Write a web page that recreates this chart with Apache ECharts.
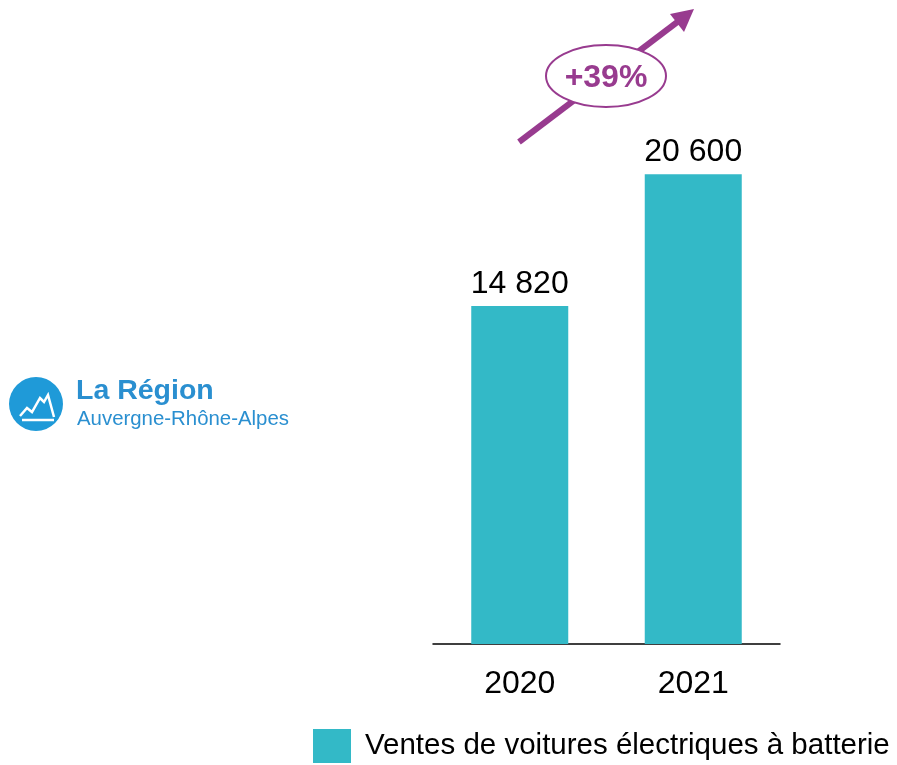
<!DOCTYPE html>
<html><head><meta charset="utf-8">
<script src="https://cdn.jsdelivr.net/npm/echarts@6/dist/echarts.min.js"></script>
<style>html,body{margin:0;padding:0;background:#fff}#c{width:897px;height:765px}</style>
</head><body><div id="c"></div>
<script>
const categories = ['2020', '2021'];
const sales = [14820, 20600];
const seriesName = 'Ventes de voitures électriques à batterie';
const growthLabel = '+39%';

const fmt = v => String(v).replace(/\B(?=(\d{3})+(?!\d))/g, ' ');
const FONT = 'Liberation Sans';
const PURPLE = '#983b8f';
const BLUE = '#1f9ad8';

const chart = echarts.init(document.getElementById('c'));
chart.setOption({
  animation: false,
  textStyle: { fontFamily: FONT },
  grid: { left: 433, right: 117, top: 74, bottom: 121 },
  legend: {
    left: 313, top: 729, itemWidth: 38, itemHeight: 34, itemGap: 10, padding: 0,
    icon: 'rect',
    textStyle: { fontSize: 29.5, color: '#000', fontFamily: FONT, padding: [0, 0, 0, 9] },
    data: [seriesName]
  },
  xAxis: {
    type: 'category', data: categories,
    axisLine: { lineStyle: { color: '#000', width: 1.5 } },
    axisTick: { show: false },
    axisLabel: { fontSize: 32, color: '#000', margin: 24 }
  },
  yAxis: { type: 'value', min: 0, max: 25000, show: false, splitLine: { show: false } },
  series: [{
    name: seriesName, type: 'bar', data: sales, barWidth: 97,
    itemStyle: { color: '#33b9c7' },
    label: { show: true, position: 'top', distance: 6, fontSize: 32, color: '#000', formatter: p => fmt(p.value) }
  }],
  graphic: [
    { type: 'circle', shape: { cx: 36, cy: 404, r: 27 }, style: { fill: BLUE } },
    { type: 'polyline', shape: { points: [[20,416],[27,408],[32,412],[40,398],[44,402],[48,395],[54,417]] }, style: { stroke: '#fff', lineWidth: 2.5, fill: null } },
    { type: 'line', shape: { x1: 22, y1: 420, x2: 54, y2: 420 }, style: { stroke: '#fff', lineWidth: 2.5 } },
    { type: 'text', left: 76, top: 377, style: { text: 'La Région', font: 'bold 28.5px ' + FONT, fill: '#2a8fd0' } },
    { type: 'text', left: 77, top: 409, style: { text: 'Auvergne-Rhône-Alpes', font: '20.4px ' + FONT, fill: '#2a8fd0' } },
    { type: 'line', shape: { x1: 519, y1: 142, x2: 680, y2: 20 }, style: { stroke: PURPLE, lineWidth: 6 } },
    { type: 'polygon', shape: { points: [[694,9],[684,32],[670,14]] }, style: { fill: PURPLE } },
    { type: 'ellipse', shape: { cx: 606, cy: 76, rx: 60, ry: 31 }, style: { fill: '#fff', stroke: PURPLE, lineWidth: 2 } },
    { type: 'text', x: 606, y: 78, style: { text: growthLabel, font: 'bold 32px ' + FONT, fill: PURPLE, align: 'center', verticalAlign: 'middle' } }
  ]
});
</script></body></html>
